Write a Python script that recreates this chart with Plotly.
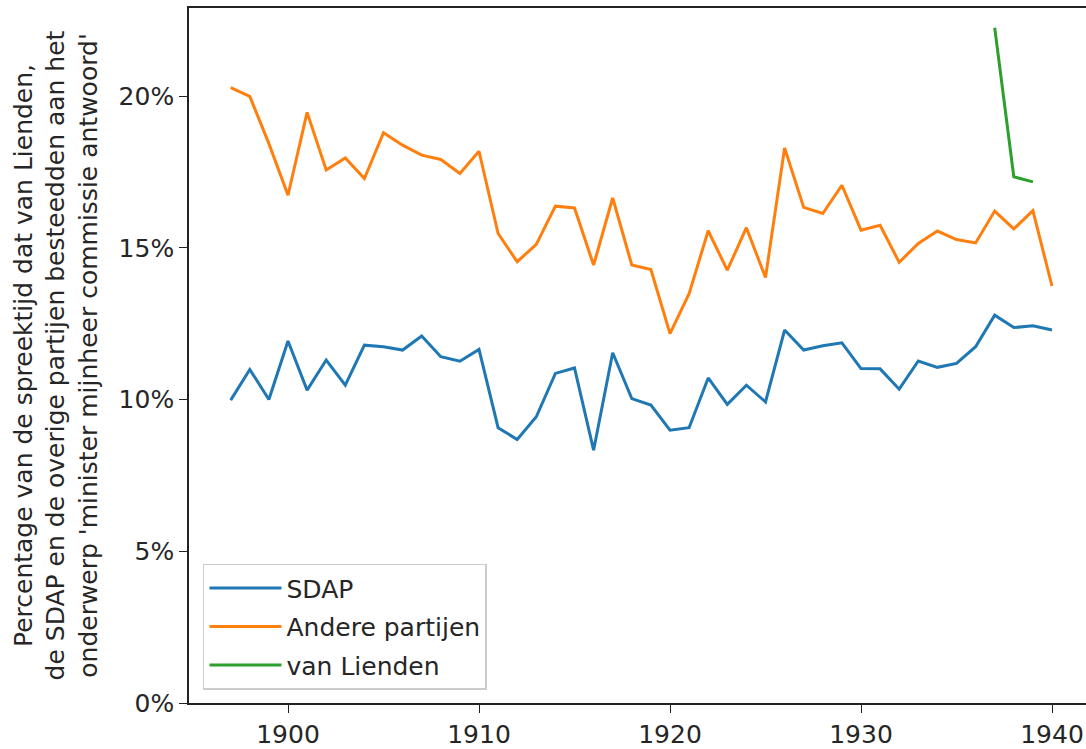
import plotly.graph_objects as go

# Speaking-time share per year (percent)
years = list(range(1897, 1941))

sdap = [9.98, 10.99, 10.00, 11.93, 10.31, 11.30, 10.47, 11.79, 11.74, 11.63,
        12.09, 11.41, 11.26, 11.65, 9.07, 8.68, 9.43, 10.86, 11.04, 8.33,
        11.54, 10.03, 9.82, 8.99, 9.07, 10.71, 9.84, 10.47, 9.92, 12.29,
        11.63, 11.77, 11.87, 11.02, 11.01, 10.34, 11.27, 11.06, 11.19, 11.74,
        12.78, 12.37, 12.43, 12.29]

andere = [20.28, 19.99, 18.43, 16.73, 19.46, 17.56, 17.96, 17.28, 18.79, 18.38,
          18.05, 17.91, 17.45, 18.18, 15.47, 14.54, 15.11, 16.37, 16.31, 14.43,
          16.64, 14.43, 14.28, 12.17, 13.49, 15.56, 14.26, 15.66, 14.02, 18.29,
          16.33, 16.13, 17.06, 15.58, 15.74, 14.52, 15.14, 15.55, 15.27, 15.16,
          16.21, 15.62, 16.22, 13.74]

lienden_years = [1937, 1938, 1939]
lienden = [22.25, 17.34, 17.17]

y_ticks = [0, 5, 10, 15, 20]
x_ticks = [1900, 1910, 1920, 1930, 1940]

FONT = "DejaVu Sans"
TXT = "#262626"

fig = go.Figure()
series = [
    ("SDAP", years, sdap, "#1f77b4"),
    ("Andere partijen", years, andere, "#ff7f0e"),
    ("van Lienden", lienden_years, lienden, "#2ca02c"),
]
for name, xs, ys, col in series:
    fig.add_trace(go.Scatter(
        x=xs, y=ys, mode="lines", name=name, legendgroup=name,
        line=dict(color=col, width=3),
    ))

fig.update_layout(
    width=1086, height=749,
    margin=dict(l=189, r=0, t=8, b=46),
    paper_bgcolor="white", plot_bgcolor="white",
    font=dict(family=FONT, size=25, color=TXT),
    showlegend=True,
    legend=dict(
        x=0.0156, y=0.019, xanchor="left", yanchor="bottom",
        bgcolor="rgba(255,255,255,0.9)", bordercolor="#cccccc", borderwidth=1.5,
        font=dict(family=FONT, size=25, color=TXT),
        tracegroupgap=3, itemwidth=72,
    ),
    xaxis=dict(
        range=[1894.817, 1941.78],
        tickvals=x_ticks, ticktext=[str(v) for v in x_ticks],
        showgrid=False, zeroline=False,
        showline=True, linecolor="#222", linewidth=1.6, mirror=True,
        ticks="outside", ticklen=8, tickwidth=1.4, tickcolor="#222",
        tickfont=dict(family=FONT, size=25, color=TXT),
    ),
    yaxis=dict(
        range=[0, 22.9],
        tickvals=y_ticks, ticktext=[f"{v}%" for v in y_ticks],
        showgrid=False, zeroline=False,
        showline=True, linecolor="#222", linewidth=1.6,
        ticks="outside", ticklen=8, tickwidth=1.4, tickcolor="#222",
        tickfont=dict(family=FONT, size=25, color=TXT),
        title=dict(
            text="Percentage van de spreektijd dat van Lienden,<br>"
                 "de SDAP en de overige partijen besteedden aan het<br>"
                 "onderwerp 'minister mijnheer commissie antwoord'",
            font=dict(family=FONT, size=25, color=TXT),
            standoff=14,
        ),
    ),
)

fig.write_html("out.html")
